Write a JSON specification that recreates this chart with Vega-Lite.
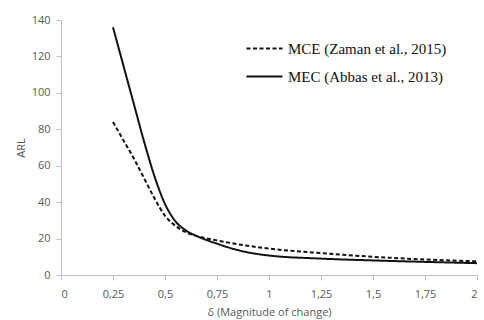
{
  "$schema": "https://vega.github.io/schema/vega-lite/v6.json",
  "autosize": {"type": "none"},
  "width": 416,
  "height": 255,
  "padding": {"left": 61, "top": 20, "right": 7, "bottom": 45},
  "background": "white",
  "config": {"view": {"stroke": null}},
  "data": {"values": [
    {"d": 0.25, "arl": 84, "s": "MCE (Zaman et al., 2015)"},
    {"d": 0.3, "arl": 74, "s": "MCE (Zaman et al., 2015)"},
    {"d": 0.35, "arl": 64, "s": "MCE (Zaman et al., 2015)"},
    {"d": 0.4, "arl": 53, "s": "MCE (Zaman et al., 2015)"},
    {"d": 0.45, "arl": 42, "s": "MCE (Zaman et al., 2015)"},
    {"d": 0.5, "arl": 32.5, "s": "MCE (Zaman et al., 2015)"},
    {"d": 0.55, "arl": 27, "s": "MCE (Zaman et al., 2015)"},
    {"d": 0.6, "arl": 23.5, "s": "MCE (Zaman et al., 2015)"},
    {"d": 0.65, "arl": 21.5, "s": "MCE (Zaman et al., 2015)"},
    {"d": 0.75, "arl": 19, "s": "MCE (Zaman et al., 2015)"},
    {"d": 0.9, "arl": 16, "s": "MCE (Zaman et al., 2015)"},
    {"d": 1.0, "arl": 14.5, "s": "MCE (Zaman et al., 2015)"},
    {"d": 1.25, "arl": 12, "s": "MCE (Zaman et al., 2015)"},
    {"d": 1.5, "arl": 10, "s": "MCE (Zaman et al., 2015)"},
    {"d": 1.75, "arl": 8.5, "s": "MCE (Zaman et al., 2015)"},
    {"d": 2.0, "arl": 7.5, "s": "MCE (Zaman et al., 2015)"},
    {"d": 0.25, "arl": 136, "s": "MEC (Abbas et al., 2013)"},
    {"d": 0.3, "arl": 115, "s": "MEC (Abbas et al., 2013)"},
    {"d": 0.35, "arl": 94, "s": "MEC (Abbas et al., 2013)"},
    {"d": 0.4, "arl": 73, "s": "MEC (Abbas et al., 2013)"},
    {"d": 0.45, "arl": 54, "s": "MEC (Abbas et al., 2013)"},
    {"d": 0.5, "arl": 39, "s": "MEC (Abbas et al., 2013)"},
    {"d": 0.55, "arl": 29.5, "s": "MEC (Abbas et al., 2013)"},
    {"d": 0.6, "arl": 24.5, "s": "MEC (Abbas et al., 2013)"},
    {"d": 0.65, "arl": 21.5, "s": "MEC (Abbas et al., 2013)"},
    {"d": 0.7, "arl": 19.2, "s": "MEC (Abbas et al., 2013)"},
    {"d": 0.75, "arl": 17.2, "s": "MEC (Abbas et al., 2013)"},
    {"d": 0.8, "arl": 15.3, "s": "MEC (Abbas et al., 2013)"},
    {"d": 0.85, "arl": 13.7, "s": "MEC (Abbas et al., 2013)"},
    {"d": 0.9, "arl": 12.4, "s": "MEC (Abbas et al., 2013)"},
    {"d": 1.0, "arl": 10.7, "s": "MEC (Abbas et al., 2013)"},
    {"d": 1.25, "arl": 9, "s": "MEC (Abbas et al., 2013)"},
    {"d": 1.5, "arl": 8, "s": "MEC (Abbas et al., 2013)"},
    {"d": 1.75, "arl": 7.2, "s": "MEC (Abbas et al., 2013)"},
    {"d": 2.0, "arl": 6.5, "s": "MEC (Abbas et al., 2013)"}
  ]},
  "mark": {"type": "line", "interpolate": "monotone", "color": "#111", "strokeWidth": 2},
  "encoding": {
    "x": {"field": "d", "type": "quantitative",
      "scale": {"domain": [0, 2], "nice": false},
      "axis": {"values": [0, 0.25, 0.5, 0.75, 1, 1.25, 1.5, 1.75, 2],
        "labelExpr": "replace(toString(datum.value), '.', ',')",
        "title": "δ (Magnitude  of change)", "grid": false,
        "domainColor": "#bfbfbf", "tickColor": "#bfbfbf", "tickSize": 5,
        "labelFont": "Open Sans", "labelFontSize": 11, "labelColor": "#595959", "labelPadding": 8,
        "titleFont": "Open Sans", "titleFontSize": 11, "titleFontWeight": "normal", "titleColor": "#595959", "titlePadding": 7}},
    "y": {"field": "arl", "type": "quantitative",
      "scale": {"domain": [0, 140], "nice": false},
      "axis": {"values": [0, 20, 40, 60, 80, 100, 120, 140],
        "title": "ARL", "grid": false,
        "domainColor": "#bfbfbf", "tickColor": "#bfbfbf", "tickSize": 5,
        "labelFont": "Open Sans", "labelFontSize": 11, "labelColor": "#595959", "labelPadding": 6,
        "titleFont": "Open Sans", "titleFontSize": 11, "titleFontWeight": "normal", "titleColor": "#595959", "titlePadding": 5}},
    "strokeDash": {"field": "s", "type": "nominal",
      "scale": {"domain": ["MCE (Zaman et al., 2015)", "MEC (Abbas et al., 2013)"], "range": [[4, 2.5], [1, 0]]},
      "legend": {"title": null, "orient": "none", "legendX": 184, "legendY": 9,
        "symbolType": "stroke", "symbolSize": 1300, "symbolStrokeWidth": 2, "symbolStrokeColor": "#111",
        "labelFont": "Liberation Serif", "labelFontSize": 15, "labelColor": "#111", "labelOffset": 4,
        "rowPadding": -9, "labelLimit": 300}}
  }
}
